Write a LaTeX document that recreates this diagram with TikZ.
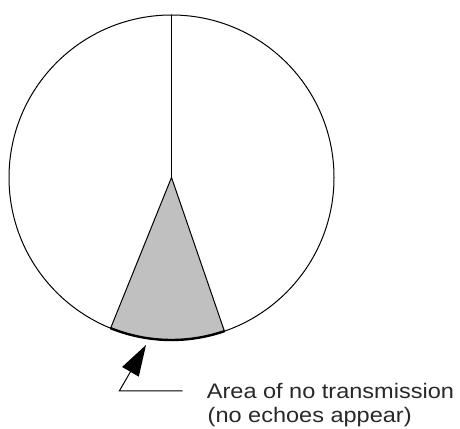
\documentclass[tikz,border=0pt]{standalone}
\usepackage{fontspec}
\setmainfont{Liberation Sans}[FakeStretch=1.12]
\usetikzlibrary{arrows.meta, calc}
\definecolor{blindgray}{RGB}{192,192,192}
\definecolor{notegray}{RGB}{40,40,40}
\tikzset{
  outline/.style={draw, line width=1pt},
  blind/.style={fill=blindgray, draw, line width=1pt},
  rim/.style={line width=2.4pt},
  note/.style={font=\fontsize{21}{24}\selectfont, text=notegray, inner sep=0pt, anchor=base west},
  pointer/.style={line width=1pt, -{Triangle[length=31pt, width=19pt]}}
}

\begin{document}
\begin{tikzpicture}[x=1pt, y=1pt]
    \useasboundingbox (0,0) rectangle (460,428);
    \coordinate (ctr) at (171.5,250.5);

    % sector with no transmission
    \filldraw[blind] (ctr) -- ++(-112:162.5) arc[start angle=-112, end angle=-71, radius=162.5] -- cycle;
    \draw[rim] ($(ctr)+(-112:162.5)$) arc[start angle=-112, end angle=-71, radius=162.5];

    \draw[outline] (ctr) circle[radius=162.5];
    \draw[outline] (ctr) -- ++(90:162.5);

    \node[note] (area) at (206.7,29.5) {Area of no transmission};
    \node[note] (echo) at (207.5,5.5) {(no echoes appear)};

    \coordinate (lead) at ([xshift=-24pt]area.west);
    \coordinate (elbow) at (119.3,0);
    \coordinate (hit) at (146,83);
    \draw[pointer] (lead) -- (lead -| elbow) -- (hit);
  \end{tikzpicture}
\end{document}
